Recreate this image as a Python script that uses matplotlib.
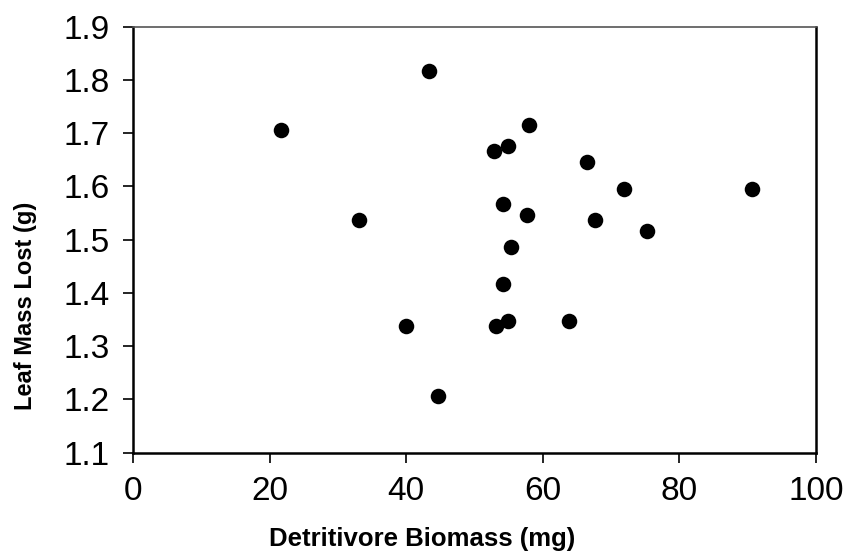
import matplotlib
matplotlib.use("Agg")
import matplotlib.pyplot as plt

biomass = [21.7, 33.1, 40.0, 43.4, 58.0, 52.8, 54.9, 66.4, 71.9, 90.6,
           54.1, 57.7, 67.6, 75.3, 55.4, 54.2, 53.2, 54.9, 63.8, 44.7]
mass_lost = [1.706, 1.537, 1.337, 1.816, 1.716, 1.667, 1.676, 1.646, 1.596, 1.596,
             1.567, 1.547, 1.537, 1.516, 1.487, 1.417, 1.337, 1.347, 1.347, 1.207]
xticks = [0, 20, 40, 60, 80, 100]
yticks = [1.1, 1.2, 1.3, 1.4, 1.5, 1.6, 1.7, 1.8, 1.9]

plt.rcParams['font.family'] = ['Liberation Sans', 'DejaVu Sans']
fig = plt.figure(figsize=(8.48, 5.57), dpi=100)
ax = fig.add_axes([133/848, 1-452.7/557, (816-133)/848, (452.7-26.7)/557])
ax.scatter(biomass, mass_lost, s=125, color='black', zorder=3, linewidths=0)
ax.set_xlim(0, 100)
ax.set_ylim(1.1, 1.9)
ax.set_xticks(xticks)
ax.set_yticks(yticks)
ax.set_xticklabels([str(t) for t in xticks])
ax.set_yticklabels([f"{t:.1f}" for t in yticks])
ax.tick_params(direction='out', length=7, width=1.2, labelsize=24)
ax.tick_params(axis='y', pad=10)
ax.tick_params(axis='x', pad=10)
for s in ['left', 'bottom', 'right']:
    ax.spines[s].set_linewidth(1.8)
    ax.spines[s].set_color('black')
ax.spines['top'].set_linewidth(1.2)
ax.spines['top'].set_color('#555555')
ax.set_xlabel('Detritivore Biomass (mg)', fontsize=18.5, fontweight='bold', va='center', ha='center')
ax.set_ylabel('Leaf Mass Lost (g)', fontsize=17, fontweight='bold', va='center', ha='center')
ax.xaxis.set_label_coords(0.423, -0.2026)
ax.yaxis.set_label_coords(-0.158, 0.344)
fig.savefig('out.png', dpi=100)
